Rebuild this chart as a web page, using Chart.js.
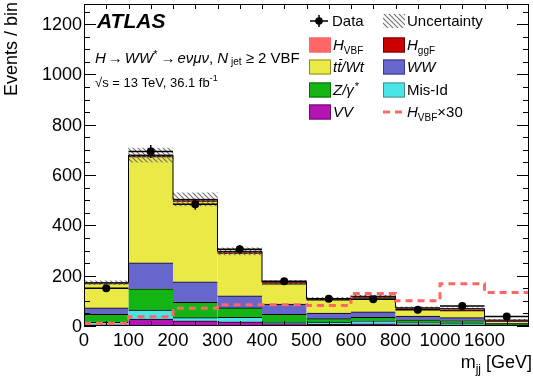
<!DOCTYPE html>
<html><head><meta charset="utf-8">
<script src="https://cdn.jsdelivr.net/npm/chart.js@4.4.1/dist/chart.umd.min.js"></script>
<style>html,body{margin:0;padding:0;background:#fff;}#wrap{width:533px;height:382px;}</style>
</head><body><div id="wrap"><canvas id="c" width="533" height="382"></canvas></div>
<script>
// ---- data ----
const binEdges = ['0','100','200','300','400','500','600','800','1000','1600'];
const vv      = [5, 28, 21, 17, 10, 7, 9, 6, 5, 2];
const misId   = [10, 35, 12, 17, 6, 9, 12, 8, 7, 2];
const zgam    = [31, 85, 61, 38, 30, 13, 13, 11, 10, 3];
const ww      = [26, 103, 82, 48, 41, 22, 22, 14, 11, 4];
const ttbar   = [97, 422, 321, 170, 81, 53, 56, 28, 28, 7];
const hggf    = [2.5, 5, 4, 4, 4, 2, 2, 2, 2, 1];
const hvbf    = [0.4, 1.2, 2.4, 2.8, 2.8, 2.7, 4.3, 3.3, 5.6, 4.4];
const hvbfx30 = [11, 37, 71, 84, 84, 81, 129, 100, 168, 133];
const dataVals = [150, 694, 484, 305, 178, 108, 106, 65, 80, 38];
const dataErr  = [12, 26, 22, 17, 13, 10, 10, 8, 9, 6];
const systUnc  = [8, 28, 26, 14, 6, 5, 5, 4, 4, 3];
const yTicks   = [0, 200, 400, 600, 800, 1000, 1200];

const FONT = '"Liberation Sans", Arial, Helvetica, sans-serif';
const comps = [
  {label:'VV',    vals: vv,    color:'#b414b4'},
  {label:'Mis-Id',vals: misId, color:'#48e6e6'},
  {label:'Z',     vals: zgam,  color:'#14b414'},
  {label:'WW',    vals: ww,    color:'#6666cc'},
  {label:'tt',    vals: ttbar, color:'#ebe946'},
  {label:'ggF',   vals: hggf,  color:'#cc0000'},
  {label:'VBF',   vals: hvbf,  color:'#ff6666'}
];
const totals = binEdges.map((_, i) => comps.reduce((s, c) => s + c.vals[i], 0));
const stepPts = arr => arr.map((v, i) => ({x: i, y: v})).concat([{x: arr.length, y: arr[arr.length - 1]}]);

const canvas = document.getElementById('c');
const mainCtx = canvas.getContext('2d');
function makeHatch() {
  const s = 5, t = document.createElement('canvas'); t.width = s; t.height = s;
  const g = t.getContext('2d'); g.strokeStyle = '#707070'; g.lineWidth = 1.1;
  for (let k = -1; k <= 1; k++) { g.beginPath(); g.moveTo(-1, -1 + k * s); g.lineTo(s + 1, s + 1 + k * s); g.stroke(); }
  return mainCtx.createPattern(t, 'repeat');
}
const hatch = makeHatch();

const datasets = comps.map(c => ({
  type: 'bar', label: c.label,
  data: c.vals.map((v, i) => ({x: i + 0.5, y: v})),
  backgroundColor: c.color, borderColor: '#000',
  borderWidth: {top: 1, left: 0, right: 0, bottom: 0}, borderSkipped: false,
  barPercentage: 1, categoryPercentage: 1, order: 10
}));
datasets.push({
  type: 'bar', label: 'Uncertainty', yAxisID: 'yu', grouped: false,
  data: totals.map((t, i) => ({x: i + 0.5, y: [t - systUnc[i], t + systUnc[i]]})),
  backgroundColor: hatch, borderWidth: 0, barPercentage: 1, categoryPercentage: 1, order: 5
});
datasets.push({
  type: 'line', label: 'total', yAxisID: 'yu', data: stepPts(totals), stepped: true,
  borderColor: '#000', borderWidth: 1, pointRadius: 0, fill: false, order: 4
});
datasets.push({
  type: 'line', label: 'HVBFx30', yAxisID: 'yu', data: stepPts(hvbfx30), stepped: true,
  borderColor: '#ff6666', borderWidth: 3, borderDash: [7, 5], pointRadius: 0, fill: false, order: 3
});
datasets.push({
  type: 'line', label: 'Data', yAxisID: 'yu', showLine: false,
  data: dataVals.map((v, i) => ({x: i + 0.5, y: v})),
  pointRadius: 4, pointBackgroundColor: '#000', pointBorderWidth: 0, order: 1
});

function rich(ctx, x, y, segs, base) {
  for (const s of segs) {
    const size = s.size || base;
    ctx.font = (s.i ? 'italic ' : '') + (s.b ? 'bold ' : '') + size + 'px ' + FONT;
    x += (s.pre || 0);
    ctx.fillText(s.t, x, y + (s.dy || 0));
    const w = ctx.measureText(s.t).width;
    if (s.bar) { ctx.save(); ctx.lineWidth = 1; ctx.strokeStyle = '#000'; ctx.beginPath(); ctx.moveTo(x + 2, y - 12.5); ctx.lineTo(x + w + 1, y - 12.5); ctx.stroke(); ctx.restore(); }
    x += w + (s.sp || 0);
  }
  return x;
}
function richWidth(ctx, segs, base) {
  let w = 0;
  for (const s of segs) { ctx.font = (s.i ? 'italic ' : '') + (s.b ? 'bold ' : '') + (s.size || base) + 'px ' + FONT; w += ctx.measureText(s.t).width + (s.sp || 0) + (s.pre || 0); }
  return w;
}

const decor = {
  id: 'decor',
  afterDatasetsDraw(chart) {
    const ctx = chart.ctx, xs = chart.scales.x, ys = chart.scales.yu;
    ctx.save(); ctx.strokeStyle = '#000'; ctx.lineWidth = 1.5;
    dataVals.forEach((v, i) => {
      const x0 = xs.getPixelForValue(i), x1 = xs.getPixelForValue(i + 1), xc = xs.getPixelForValue(i + 0.5);
      const py = ys.getPixelForValue(v);
      ctx.beginPath(); ctx.moveTo(x0, py); ctx.lineTo(x1, py);
      ctx.moveTo(xc, ys.getPixelForValue(v - dataErr[i])); ctx.lineTo(xc, ys.getPixelForValue(v + dataErr[i]));
      ctx.stroke();
    });
    ctx.restore();
  },
  afterDraw(chart) {
    const ctx = chart.ctx, a = chart.chartArea, xs = chart.scales.x, ys = chart.scales.y;
    ctx.save();
    ctx.strokeStyle = '#000'; ctx.lineWidth = 1;
    ctx.strokeRect(a.left + 0.5, a.top + 0.5, a.right - a.left - 1, a.bottom - a.top - 1);
    ctx.beginPath();
    for (let v = 0; v <= 1250; v += 50) {
      const py = Math.round(ys.getPixelForValue(v)) + 0.5, len = (v % 200 === 0) ? 12 : 6;
      ctx.moveTo(a.left, py); ctx.lineTo(a.left + len, py);
      ctx.moveTo(a.right, py); ctx.lineTo(a.right - len, py);
    }
    for (let k = 1; k < 20; k++) {
      const px = Math.round(xs.getPixelForValue(k / 2)) + 0.5;
      ctx.moveTo(px, a.bottom); ctx.lineTo(px, a.bottom - 5);
      ctx.moveTo(px, a.top); ctx.lineTo(px, a.top + 5);
    }
    ctx.stroke();

    ctx.fillStyle = '#000';
    // y tick labels placed through the y scale
    ctx.font = '18px ' + FONT; ctx.textAlign = 'right'; ctx.textBaseline = 'middle';
    ys.ticks.forEach(t => ctx.fillText(String(t.value), a.left - 2, ys.getPixelForValue(t.value) + 1));
    ctx.textAlign = 'left'; ctx.textBaseline = 'alphabetic';
    // axis titles
    ctx.save(); ctx.translate(17, 2); ctx.rotate(-Math.PI / 2); ctx.textAlign = 'right';
    ctx.font = '18px ' + FONT; ctx.fillText('Events / bin', 0, 0); ctx.restore();
    const xt = [{t: 'm'}, {t: 'jj', size: 12, dy: 5}, {t: ' [GeV]'}];
    rich(ctx, 532 - richWidth(ctx, xt, 18), 368, xt, 18);

    // ATLAS label and descriptions
    ctx.font = 'italic bold 21px ' + FONT; ctx.fillText('ATLAS', 97, 28);
    rich(ctx, 95, 63, [
      {t: 'H', i: 1}, {t: '\u2192', pre: 2, sp: 2}, {t: 'WW', i: 1}, {t: '*', size: 11, dy: -5, sp: 1},
      {t: '\u2192', pre: 2, sp: 2}, {t: 'e\u03bd\u03bc\u03bd', i: 1}, {t: ', '}, {t: 'N', i: 1},
      {t: ' jet', size: 10, dy: 2}, {t: ' \u2265 2 VBF'}
    ], 15);
    rich(ctx, 95, 87, [{t: '\u221As = 13 TeV, 36.1 fb'}, {t: '-1', size: 9, dy: -6}], 13);

    // legend
    const rows = [21, 45, 67, 90, 112];
    const L = 309, R = 383, TL = 333, TR = 407, BW = 22, BH = 15;
    function box(x, cy, fill, edge) {
      ctx.fillStyle = fill; ctx.fillRect(x, cy - BH / 2, BW, BH);
      if (edge) { ctx.strokeStyle = edge; ctx.lineWidth = 1; ctx.strokeRect(x + 0.5, cy - BH / 2 + 0.5, BW - 1, BH - 1); }
      ctx.fillStyle = '#000';
    }
    // Data
    ctx.strokeStyle = '#000'; ctx.lineWidth = 1.5; ctx.beginPath();
    ctx.moveTo(310, rows[0]); ctx.lineTo(328, rows[0]); ctx.moveTo(319, rows[0] - 6); ctx.lineTo(319, rows[0] + 6); ctx.stroke();
    ctx.beginPath(); ctx.arc(319, rows[0], 3.8, 0, 2 * Math.PI); ctx.fill();
    rich(ctx, TL - 1, rows[0] + 5, [{t: 'Data'}], 15);
    // Uncertainty
    ctx.fillStyle = hatch; ctx.fillRect(R, rows[0] - 7, BW, 14); ctx.fillStyle = '#000';
    rich(ctx, TR, rows[0] + 5, [{t: 'Uncertainty'}], 15);
    box(L, rows[1], '#ff6666', '#ff6666');
    rich(ctx, TL, rows[1] + 5, [{t: 'H', i: 1}, {t: 'VBF', size: 10, dy: 4}], 15);
    box(R, rows[1], '#cc0000', '#700000');
    rich(ctx, TR, rows[1] + 5, [{t: 'H', i: 1}, {t: 'ggF', size: 10, dy: 4}], 15);
    box(L, rows[2], '#ebe946', '#8a8a20');
    rich(ctx, TL, rows[2] + 5, [{t: 't', i: 1}, {t: 't', i: 1, bar: 1}, {t: '/Wt', i: 1}], 15);
    box(R, rows[2], '#6666cc', '#3a3a88');
    rich(ctx, TR, rows[2] + 5, [{t: 'WW', i: 1}], 15);
    box(L, rows[3], '#14b414', '#0a6a0a');
    rich(ctx, TL, rows[3] + 5, [{t: 'Z/\u03b3', i: 1, sp: 1}, {t: '*', size: 11, dy: -5}], 15);
    box(R, rows[3], '#48e6e6', '#4a8a8a');
    rich(ctx, TR, rows[3] + 5, [{t: 'Mis-Id'}], 15);
    box(L, rows[4], '#b414b4', '#6a0a6a');
    rich(ctx, TL, rows[4] + 5, [{t: 'VV', i: 1}], 15);
    ctx.strokeStyle = '#ff6666'; ctx.lineWidth = 3; ctx.setLineDash([7, 5]); ctx.beginPath();
    ctx.moveTo(R, rows[4]); ctx.lineTo(R + 20, rows[4]); ctx.stroke(); ctx.setLineDash([]);
    rich(ctx, TR, rows[4] + 5, [{t: 'H', i: 1}, {t: 'VBF', size: 10, dy: 4}, {t: '\u00d730'}], 15);
    ctx.restore();
  }
};

new Chart(canvas, {
  type: 'bar',
  data: {datasets},
  options: {
    responsive: false, animation: false, events: [],
    layout: {padding: {top: 1, right: 1, left: 0, bottom: 0}},
    plugins: {legend: {display: false}, tooltip: {enabled: false}, title: {display: false}},
    scales: {
      x: {
        type: 'linear', min: 0, max: 10, offset: false, stacked: true,
        grid: {display: false, drawTicks: false, tickLength: 0}, border: {display: false},
        afterBuildTicks: s => { s.ticks = binEdges.map((_, i) => ({value: i})); },
        afterFit: s => { s.height = 56; },
        ticks: {autoSkip: false, maxRotation: 0, padding: 4, color: '#000', font: {family: FONT, size: 18.5},
          callback: v => binEdges[v] !== undefined ? binEdges[v] : ''}
      },
      y: {
        type: 'linear', min: 0, max: 1280, stacked: true,
        grid: {display: false, drawTicks: false, tickLength: 0}, border: {display: false},
        afterBuildTicks: s => { s.ticks = yTicks.map(v => ({value: v})); },
        afterFit: s => { s.width = 84; },
        ticks: {display: false}
      },
      yu: {type: 'linear', min: 0, max: 1280, display: false, stacked: false}
    }
  },
  plugins: [decor]
});
</script></body></html>
